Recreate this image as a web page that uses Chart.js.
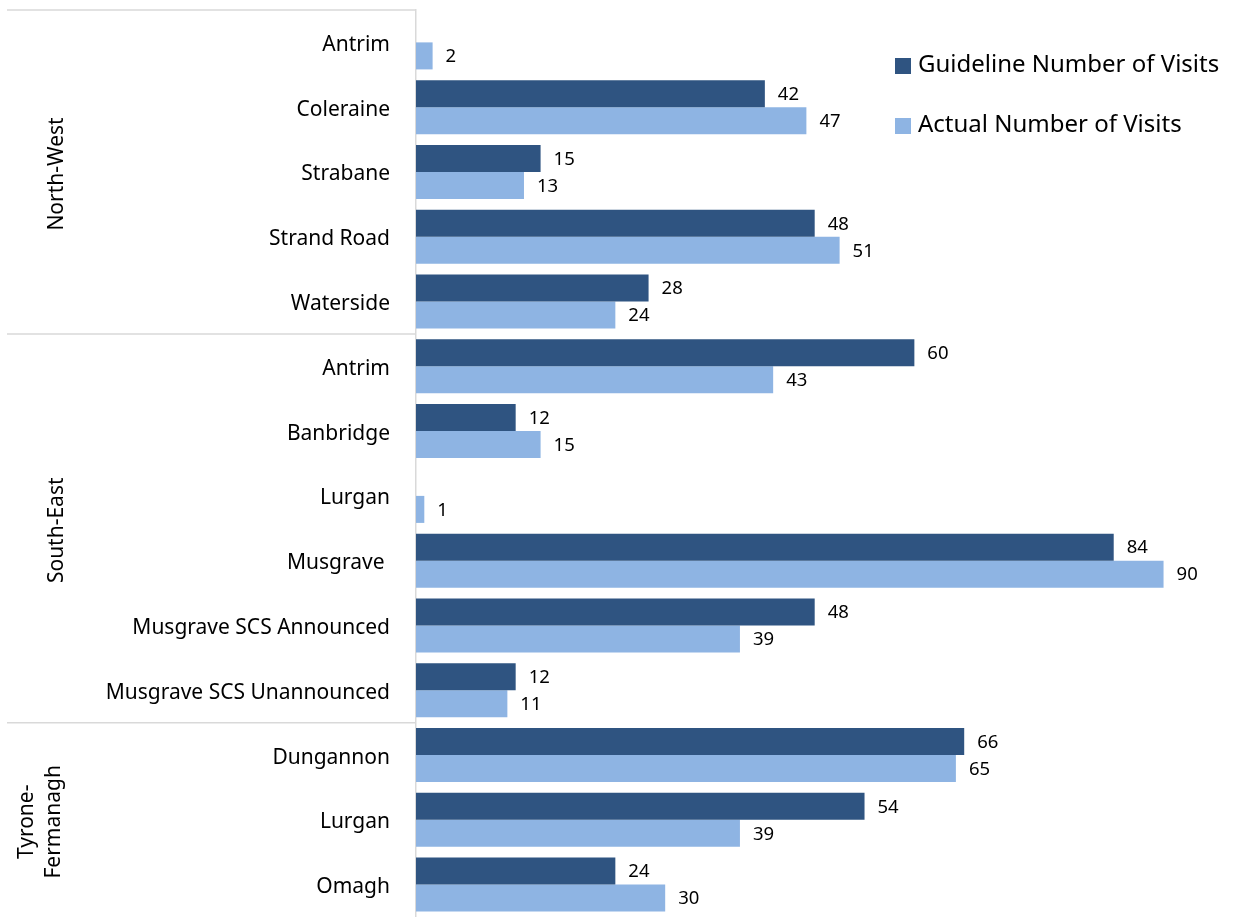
<!DOCTYPE html>
<html>
<head>
<meta charset="utf-8">
<script src="https://cdn.jsdelivr.net/npm/chart.js@4/dist/chart.umd.min.js"></script>
<style>
  html, body { margin: 0; padding: 0; background: #fff; }
  #wrap { position: relative; width: 1234px; height: 917px; }
</style>
</head>
<body>
<div id="wrap"><canvas id="visitsChart"></canvas></div>
<script>
const sites = ['Antrim', 'Coleraine', 'Strabane', 'Strand Road', 'Waterside',
  'Antrim', 'Banbridge', 'Lurgan', 'Musgrave ', 'Musgrave SCS Announced', 'Musgrave SCS Unannounced',
  'Dungannon', 'Lurgan', 'Omagh'];
const guidelineVisits = [null, 42, 15, 48, 28, 60, 12, null, 84, 48, 12, 66, 54, 24];
const actualVisits = [2, 47, 13, 51, 24, 43, 15, 1, 90, 39, 11, 65, 39, 30];
const regionNames = [['North-West'], ['South-East'], ['Tyrone-', 'Fermanagh']];
const regionSizes = [5, 6, 3];

const FONT = "'Noto Sans', sans-serif";
const darkBlue = '#2f5481';
const lightBlue = '#8eb4e3';
const lineGrey = '#d9d9d9';

// region dividers and rotated region names on the left
const regionPlugin = {
  id: 'regions',
  afterDraw(chart) {
    const ctx = chart.ctx;
    const y = chart.scales.y;
    const band = y.getPixelForValue(1) - y.getPixelForValue(0);
    const axisX = chart.chartArea.left;
    let start = 0;
    ctx.save();
    ctx.strokeStyle = lineGrey;
    ctx.lineWidth = 1.5;
    ctx.fillStyle = '#000';
    ctx.font = '21px ' + FONT;
    ctx.textAlign = 'center';
    ctx.textBaseline = 'middle';
    regionSizes.forEach((n, i) => {
      const top = y.getPixelForValue(start) - band / 2;
      const bottom = top + n * band;
      ctx.beginPath();
      ctx.moveTo(7, top);
      ctx.lineTo(axisX, top);
      ctx.stroke();
      const lines = regionNames[i];
      const mid = (top + bottom) / 2;
      ctx.save();
      ctx.translate(57 - (lines.length - 1) * 30, mid + 2);
      ctx.rotate(-Math.PI / 2);
      lines.forEach((t, k) => ctx.fillText(t, 0, k * 27));
      ctx.restore();
      start += n;
    });
    ctx.restore();
  }
};

// value labels at the end of each bar
const valuePlugin = {
  id: 'values',
  afterDatasetsDraw(chart) {
    const ctx = chart.ctx;
    ctx.save();
    ctx.fillStyle = '#000';
    ctx.font = '18.5px ' + FONT;
    ctx.textBaseline = 'middle';
    chart.data.datasets.forEach((ds, di) => {
      chart.getDatasetMeta(di).data.forEach((bar, i) => {
        if (ds.data[i] == null) return;
        ctx.fillText(ds.data[i], bar.x + 13, bar.y + 1);
      });
    });
    ctx.restore();
  }
};

// legend in the top right corner
const legendPlugin = {
  id: 'cornerLegend',
  afterDraw(chart) {
    const ctx = chart.ctx;
    ctx.save();
    ctx.font = '24px ' + FONT;
    ctx.textBaseline = 'middle';
    chart.data.datasets.forEach((ds, i) => {
      const cy = 65 + i * 60;
      ctx.fillStyle = ds.backgroundColor;
      ctx.fillRect(895, cy - 7, 16, 16);
      ctx.fillStyle = '#000';
      ctx.fillText(ds.label, 918, cy);
    });
    ctx.restore();
  }
};

new Chart(document.getElementById('visitsChart'), {
  type: 'bar',
  data: {
    labels: sites,
    datasets: [
      { label: 'Guideline Number of Visits', data: guidelineVisits, backgroundColor: darkBlue },
      { label: 'Actual Number of Visits', data: actualVisits, backgroundColor: lightBlue }
    ]
  },
  options: {
    indexAxis: 'y',
    responsive: true,
    maintainAspectRatio: false,
    animation: false,
    layout: { padding: { top: 10, right: 4, bottom: 0, left: 0 } },
    categoryPercentage: 0.834,
    barPercentage: 1,
    plugins: { legend: { display: false }, tooltip: { enabled: false } },
    scales: {
      x: { display: false, min: 0, max: 98 },
      y: {
        grid: { display: false, drawTicks: false },
        border: { display: true, color: lineGrey, width: 1.5 },
        ticks: { color: '#000', font: { family: FONT, size: 21 }, padding: 26, labelOffset: 2.5 },
        afterFit(scale) {
          scale.width = 416;
          scale.paddingTop = 0;
          scale.paddingBottom = 0;
        }
      }
    }
  },
  plugins: [regionPlugin, valuePlugin, legendPlugin]
});
</script>
</body>
</html>
